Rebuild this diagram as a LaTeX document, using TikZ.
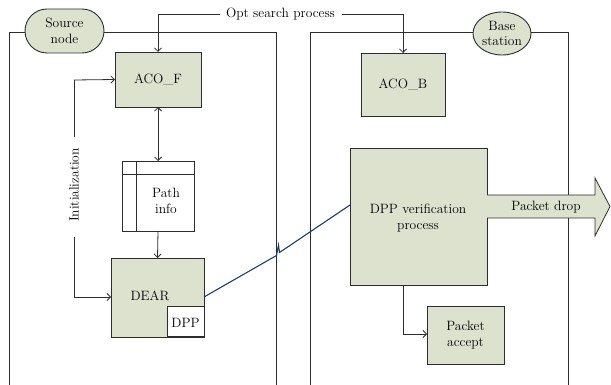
\documentclass[tikz,border=0pt]{standalone}
\usetikzlibrary{arrows.meta,shapes.misc,shapes.geometric}
\definecolor{boxgreen}{RGB}{220,226,206}
\definecolor{edge}{RGB}{45,45,45}
\definecolor{linkblue}{RGB}{28,62,110}
\begin{document}
\begin{tikzpicture}[x=1pt,y=-1pt,
  font=\fontsize{13.5}{15.5}\selectfont,
  every node/.style={inner sep=0pt,outer sep=0pt},
  frame/.style={draw=edge,line width=0.8pt},
  gbox/.style={draw=edge,fill=boxgreen,line width=0.9pt},
  conn/.style={draw=edge,line width=0.8pt,-{Straight Barb[length=3.5pt,width=7pt]}},
  lbl/.style={align=center,text=black}]
\useasboundingbox (0,0) rectangle (611,385);

% outer frames of the two sites
\draw[frame] (9,386) -- (9,32) -- (276,32) -- (276,386);
\draw[frame] (310,386) -- (310,32) -- (568,32) -- (568,386);

% site labels
\node[gbox,rounded rectangle,minimum width=79pt,minimum height=44pt,lbl] (src) at (64.5,31) {Source\\node};
\node[gbox,ellipse,minimum width=58pt,minimum height=43pt,lbl] (bs) at (502,33.5) {Base\\station};

% source node blocks
\node[gbox,minimum width=86pt,minimum height=55pt] (acof) at (158,79.5) {ACO\_F};
\node[draw=edge,fill=white,line width=0.9pt,minimum width=72pt,minimum height=70pt] (path) at (158,196) {};
\draw[edge,line width=0.8pt] (136,161) -- (136,231);
\draw[edge,line width=0.8pt] (122,174) -- (194,174);
\node[lbl] (pathtxt) at (166,201) {Path\\info};
\node[gbox,minimum width=93pt,minimum height=79pt] (dear) at (157.5,297.5) {};
\node[lbl] (deartxt) at (150,296) {DEAR};
\node[draw=edge,fill=white,line width=0.9pt,minimum width=37pt,minimum height=31pt,anchor=south east] (dpp) at (dear.south east) {};
\draw[edge,line width=1.6pt] (dpp.south west) -- (dpp.south east);
\node[lbl] (dpptxt) at (185.5,323) {DPP};

% base station blocks
\node[gbox,minimum width=84pt,minimum height=63pt] (acob) at (403,84.5) {ACO\_B};
\node[gbox,minimum width=137pt,minimum height=137pt] (ver) at (418.5,216.5) {};
\node[lbl] (vertxt) at (418,218) {DPP verification\\process};
\node[gbox,minimum width=77pt,minimum height=58pt,lbl] (acc) at (465.5,335) {Packet\\accept};

% packet drop arrow
\draw[gbox,line width=0.8pt] (ver.east |- 0,195) -- (595,195) -- (595,178) -- (610,206.5) -- (595,236) -- (595,218) -- (ver.east |- 0,218);
\node[lbl] (drop) at (546,207) {Packet drop};

% opt search process
\node[lbl] (opt) at (280.5,14) {Opt search process};
\coordinate (optl) at (220,14);
\coordinate (optr) at (342,14);
\draw[conn] (optl) -- (optl -| acof.north) -- (acof.north);
\draw[conn] (optr) -- (optr -| acob.north) -- (acob.north);

% internal flow of the source node
\draw[conn,{Straight Barb[length=3.5pt,width=7pt]}-{Straight Barb[length=3.5pt,width=7pt]}] (acof.south) -- (path.north);
\draw[conn] (path.south) -- (dear.north);

% initialization loop
\node[lbl,rotate=90] (init) at (74,185) {Initialization};
\coordinate (il) at (74,297);
\coordinate (iu) at (74,80);
\draw[edge,line width=0.8pt] (74,137) -- (iu);
\draw[conn] (iu) -- (acof.west);
\draw[edge,line width=0.8pt] (74,237) -- (il);
\draw[conn] (il) -- (dear.west |- il);

% wireless link
\coordinate (wa) at (dear.east |- 0,297);
\coordinate (wb) at (ver.west |- 0,205);
\draw[linkblue,line width=1.1pt,line join=miter] (wa) -- (276.5,255.5) -- (278.5,245) -- (279.5,252.5) -- (wb);

% verification to accept
\coordinate (vb) at (403,285);
\draw[conn] (vb) -- (403,334) -- (acc.west |- 0,334);
\end{tikzpicture}
\end{document}
